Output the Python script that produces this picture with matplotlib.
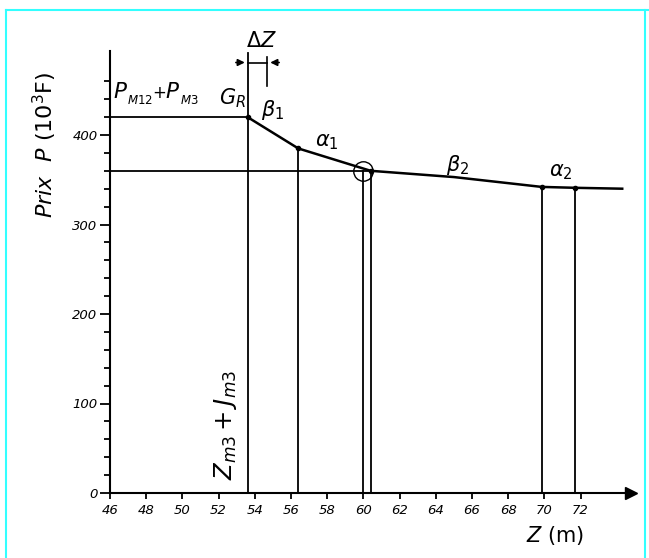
import matplotlib
matplotlib.use("Agg")
import matplotlib.pyplot as plt
from matplotlib.lines import Line2D

plt.rcParams['font.family'] = ['DejaVu Sans']
plt.rcParams['mathtext.fontset'] = 'dejavusans'
plt.rcParams['mathtext.default'] = 'it'

# ---- data ----
curve_z = [53.6, 56.4, 60.4, 65.0, 69.85, 71.7, 74.3]
curve_p = [420, 385, 360, 353, 342, 341, 340]
node_z = [53.6, 56.4, 60.4, 69.85, 71.7]
node_p = [420, 385, 360, 342, 341]
drop_z = [53.6, 56.4, 60.0, 60.4, 69.85, 71.7]
drop_top = [492, 385, 360, 360, 342, 341]
level_p = [420, 360]
level_end = [53.6, 60.4]
circle_z, circle_p = 60.0, 360
dz_start, dz_end = 53.6, 54.7
xticks = list(range(46, 73, 2))
yticks = [0, 100, 200, 300, 400]
yminor = list(range(20, 470, 20))

W, H = 649, 558
fig = plt.figure(figsize=(W / 100, H / 100), dpi=100)
x0_px, xscale = 110, 18.1
y0_px, yscale = 493, 0.895
xmax, ymax = 74.8, 494
ax = fig.add_axes([x0_px / W, (H - y0_px) / H,
                   (xmax - 46) * xscale / W, ymax * yscale / H])
ax.set_xlim(46, xmax)
ax.set_ylim(0, ymax)
for s in ['top', 'right']:
    ax.spines[s].set_visible(False)
for s in ['left', 'bottom']:
    ax.spines[s].set_linewidth(1.5)

ax.plot(1, 0, '>k', transform=ax.get_yaxis_transform(), clip_on=False, ms=8)
ax.plot(0, 1, '^k', transform=ax.get_xaxis_transform(), clip_on=False, ms=6)

ax.set_xticks(xticks)
ax.set_xticklabels([str(t) for t in xticks], fontstyle='italic', fontsize=9.5)
ax.set_yticks(yticks)
ax.set_yticklabels([str(t) for t in yticks], fontstyle='italic', fontsize=9.5)
ax.set_yticks(yminor, minor=True)
ax.tick_params(axis='y', which='major', length=7, width=1.3, direction='out', pad=2)
ax.tick_params(axis='y', which='minor', length=4, width=1.3, direction='out')
ax.tick_params(axis='x', which='major', length=4, width=1.3, direction='out', pad=4)

# curve
ax.plot(curve_z, curve_p, color='black', lw=1.8, clip_on=False)
ax.plot(node_z, node_p, 'o', color='black', ms=3)
# vertical drops
for z, t in zip(drop_z, drop_top):
    ax.plot([z, z], [0, t], color='black', lw=1.3, clip_on=False)
# horizontal levels
for p, e in zip(level_p, level_end):
    ax.plot([46, e], [p, p], color='black', lw=1.3)
# circle
ax.plot(circle_z, circle_p, 'o', mfc='none', mec='black', ms=14, mew=1.0)

# delta Z dimension
ydim = 481
ax.annotate('', xy=(dz_start, ydim), xytext=(dz_start - 0.8, ydim),
            arrowprops=dict(arrowstyle='-|>', color='black', lw=1.2,
                            mutation_scale=10), annotation_clip=False)
ax.annotate('', xy=(dz_end, ydim), xytext=(dz_end + 0.8, ydim),
            arrowprops=dict(arrowstyle='-|>', color='black', lw=1.2,
                            mutation_scale=10), annotation_clip=False)
ax.plot([dz_start, dz_end], [ydim, ydim], color='black', lw=1.2, clip_on=False)
ax.plot([dz_end, dz_end], [455, 487], color='black', lw=1.2, clip_on=False)
ax.text((dz_start + dz_end) / 2 + 0.2, 505, r'$\Delta Z$', fontsize=15,
        ha='center', va='center')

# P_M12 + P_M3 label, drawn piecewise in the drawing's lettering layout
ax.text(46.15, 441, r'$P$', fontsize=15.5, ha='left', va='baseline')
ax.text(46.95, 435, r'$M12$', fontsize=8.5, ha='left', va='baseline')
ax.text(48.7, 447, '+', fontsize=12, ha='center', va='center')
ax.text(49.05, 441, r'$P$', fontsize=15.5, ha='left', va='baseline')
ax.text(49.85, 435, r'$M3$', fontsize=8.5, ha='left', va='baseline')

ax.text(53.5, 434, r'$G_R$', fontsize=15, ha='right', va='baseline')
ax.text(55.0, 428, r'$\beta_1$', fontsize=15, ha='center', va='center')
ax.text(58.0, 392, r'$\alpha_1$', fontsize=15, ha='center', va='center')
ax.text(65.2, 367, r'$\beta_2$', fontsize=15, ha='center', va='center')
ax.text(70.9, 359, r'$\alpha_2$', fontsize=15, ha='center', va='center')
ax.text(52.4, 14, r'$Z_{m3}+J_{m3}$', fontsize=17.5, rotation=90,
        ha='center', va='bottom')
ax.text(42.4, 389, r'$\mathit{Prix}\ \ P\ (10^3\mathrm{F})$', fontsize=16,
        rotation=90, ha='center', va='center')
ax.text(70.6, -48, r'$Z$ (m)', fontsize=15, ha='center', va='center')

# cyan frame
fig.add_artist(Line2D([6 / W, 1], [1 - 10 / H, 1 - 10 / H], color='#33ffff', lw=1.5))
fig.add_artist(Line2D([6 / W, 6 / W], [0, 1 - 10 / H], color='#33ffff', lw=1.5))
fig.add_artist(Line2D([645 / W, 645 / W], [0, 1 - 10 / H], color='#33ffff', lw=1.5))

fig.savefig('out.png', dpi=100)
